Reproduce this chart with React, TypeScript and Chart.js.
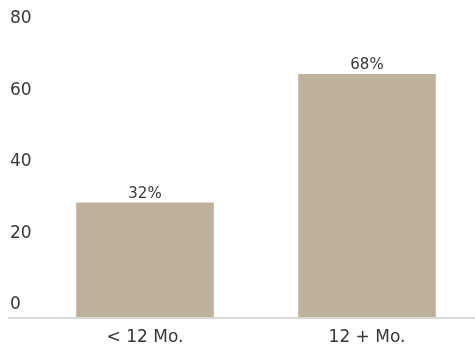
import { useEffect, useRef } from "react";
import { Chart, registerables } from "chart.js";

Chart.register(...registerables);

const categories = ["< 12 Mo.", "12 + Mo."];
const values = [32, 68];
const valueLabels = ["32%", "68%"];
const yMin = 0;
const yMax = 80;
const yStep = 20;

const FONT = "'DejaVu Sans', sans-serif";
const TEXT = "#383838";
const BAR = "#BDB19B";
const AXIS = "#D9D9D9";

const barLabels = {
  id: "barLabels",
  afterDatasetsDraw(chart: any) {
    const ctx = chart.ctx;
    const meta = chart.getDatasetMeta(0);
    ctx.save();
    ctx.font = `15px ${FONT}`;
    ctx.fillStyle = TEXT;
    ctx.textAlign = "center";
    ctx.textBaseline = "alphabetic";
    meta.data.forEach((bar: any, i: number) => {
      ctx.fillText(valueLabels[i], bar.x, bar.y - 5);
    });
    ctx.restore();
  },
};

const baseLine = {
  id: "baseLine",
  afterDatasetsDraw(chart: any) {
    const ctx = chart.ctx;
    const y = chart.scales.y.getPixelForValue(0) + 1;
    ctx.save();
    ctx.strokeStyle = AXIS;
    ctx.lineWidth = 2;
    ctx.beginPath();
    ctx.moveTo(8, y);
    ctx.lineTo(chart.width, y);
    ctx.stroke();
    ctx.restore();
  },
};

export default function App() {
  const ref = useRef<HTMLCanvasElement | null>(null);
  useEffect(() => {
    if (!ref.current) return;
    const chart = new Chart(ref.current, {
      type: "bar",
      data: {
        labels: categories,
        datasets: [
          {
            data: values,
            backgroundColor: BAR,
            borderWidth: 0,
            barPercentage: 0.62,
            categoryPercentage: 1,
          },
        ],
      },
      options: {
        responsive: false,
        animation: false,
        maintainAspectRatio: false,
        layout: { padding: { left: 10, top: 31, right: 0, bottom: 0 } },
        plugins: {
          legend: { display: false },
          tooltip: { enabled: false },
          title: { display: false },
        },
        scales: {
          x: {
            grid: { display: false, drawTicks: false },
            border: { display: false },
            ticks: {
              color: TEXT,
              font: { family: FONT, size: 17 },
              padding: 10,
            },
            afterFit: (s: any) => {
              s.height = 37;
            },
          },
          y: {
            min: yMin,
            max: yMax,
            grid: { display: false, drawTicks: false },
            border: { display: false },
            ticks: {
              stepSize: yStep,
              color: TEXT,
              font: { family: FONT, size: 17 },
              crossAlign: "far",
              labelOffset: -12,
            },
            afterFit: (s: any) => {
              s.width = 24;
            },
          },
        },
      },
      plugins: [barLabels, baseLine],
    });
    return () => chart.destroy();
  }, []);
  return (
    <div style={{ position: "fixed", left: 0, top: 0, width: 475, height: 354, overflow: "hidden", background: "#fff" }}>
      <canvas ref={ref} width={478} height={354} style={{ display: "block", width: 478, height: 354 }} />
    </div>
  );
}
